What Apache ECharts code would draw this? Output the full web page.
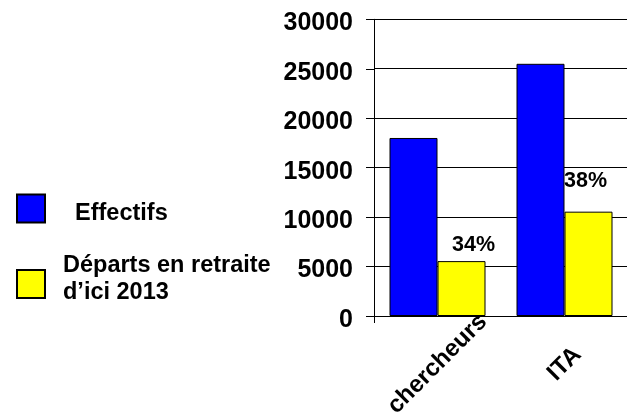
<!DOCTYPE html>
<html>
<head>
<meta charset="utf-8">
<script src="https://cdn.jsdelivr.net/npm/echarts@6/dist/echarts.min.js"></script>
<style>
html,body{margin:0;padding:0;background:#fff;}
#chart{width:627px;height:414px;}
</style>
</head>
<body>
<div id="chart"></div>
<script>
const categories = ['chercheurs', 'ITA'];
const effectifs = [18000, 25500];
const departs = [5550, 10550];
const pctLabels = ['34%', '38%'];
const yTicks = [0, 5000, 10000, 15000, 20000, 25000, 30000];
const seriesNames = ['Effectifs', 'Départs en retraite\nd\u2019ici 2013'];

const FONT = "'Liberation Sans', Arial, sans-serif";
const chart = echarts.init(document.getElementById('chart'), null, {renderer: 'canvas'});

const legendText = {fontFamily: FONT, fontWeight: 'bold', fontSize: 23.5, color: '#000'};

chart.setOption({
  animation: false,
  backgroundColor: '#ffffff',
  textStyle: {fontFamily: FONT},
  grid: {left: 374, top: 19.3, width: 254, height: 296.7, containLabel: false, outerBoundsMode: 'none'},
  legend: [
    {
      data: [seriesNames[0]],
      left: 16, top: 182.5, padding: 0,
      itemWidth: 28, itemHeight: 28, icon: 'rect',
      selectedMode: false,
      formatter: function (name) { return '{s| }\n{t|' + name + '}'; },
      textStyle: Object.assign({}, legendText, {
        padding: [0, 0, 0, 25],
        rich: {
          s: Object.assign({}, legendText, {lineHeight: 11, height: 11}),
          t: Object.assign({}, legendText, {lineHeight: 28, height: 28})
        }
      })
    },
    {
      data: [seriesNames[1]],
      left: 16, top: 252.5, padding: 0,
      itemWidth: 28, itemHeight: 28, icon: 'rect',
      selectedMode: false,
      formatter: function (name) {
        return name.split('\n').map(function (l) { return '{t|' + l + '}'; }).join('\n') + '\n{s| }';
      },
      textStyle: Object.assign({}, legendText, {
        padding: [0, 0, 0, 13],
        rich: {
          s: Object.assign({}, legendText, {lineHeight: 9, height: 9}),
          t: Object.assign({}, legendText, {lineHeight: 27, height: 27})
        }
      })
    }
  ],
  xAxis: {
    type: 'category',
    data: categories,
    axisLine: {lineStyle: {color: '#000', width: 1}},
    axisTick: {show: true, length: 7, lineStyle: {color: '#000'}, interval: function (i) { return i === 0; }},
    axisLabel: {
      rotate: 45, margin: 48, align: 'center', verticalAlign: 'middle',
      fontFamily: FONT, fontWeight: 'bold', fontSize: 24, color: '#000'
    }
  },
  yAxis: {
    type: 'value',
    min: yTicks[0], max: yTicks[yTicks.length - 1], interval: yTicks[1] - yTicks[0],
    axisLine: {show: true, lineStyle: {color: '#000', width: 1}},
    axisTick: {show: true, length: 8, lineStyle: {color: '#000'}},
    splitLine: {show: true, lineStyle: {color: '#000', width: 1}},
    axisLabel: {
      margin: 21, fontFamily: FONT, fontWeight: 'bold', fontSize: 25, color: '#000',
      verticalAlign: 'top', lineHeight: 8,
      formatter: function (v) { return String(v); }
    }
  },
  series: [
    {
      name: seriesNames[0],
      type: 'bar',
      data: effectifs,
      barWidth: 48,
      barGap: '0%',
      itemStyle: {color: '#0000FF', borderColor: '#000', borderWidth: 1}
    },
    {
      name: seriesNames[1],
      type: 'bar',
      data: departs.map(function (v, i) {
        return {value: v, label: {offset: i === 0 ? [12, 0] : [-3, -15]}};
      }),
      barWidth: 48,
      barGap: '0%',
      itemStyle: {color: '#FFFF00', borderColor: '#000', borderWidth: 1},
      label: {
        show: true, position: 'top', distance: 5,
        fontFamily: FONT, fontWeight: 'bold', fontSize: 21.5, color: '#000',
        formatter: function (p) { return pctLabels[p.dataIndex]; }
      }
    }
  ]
});
</script>
</body>
</html>
